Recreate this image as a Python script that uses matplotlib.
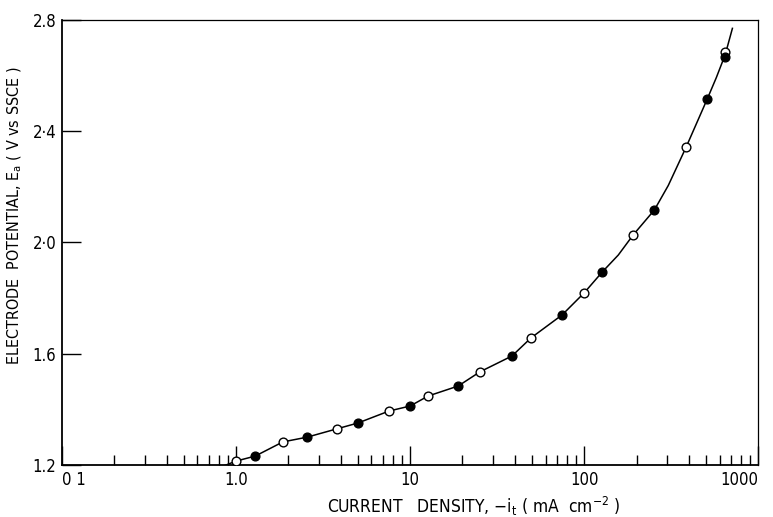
import matplotlib.pyplot as plt
from matplotlib.ticker import FixedLocator, LogLocator, NullFormatter

plt.rcParams['font.family'] = ['DejaVu Sans']
plt.rcParams['font.stretch'] = 'condensed'
plt.rcParams['mathtext.fontset'] = 'dejavusans'

# open circles
open_i = [1.0, 1.86, 3.8, 7.57, 12.7, 25.2, 49.5, 100, 191, 385, 646]
open_e = [1.214, 1.283, 1.33, 1.394, 1.448, 1.535, 1.657, 1.819, 2.027, 2.343, 2.685]

# filled circles
filled_i = [1.29, 2.56, 5.02, 10.0, 18.9, 38.5, 74.8, 127, 253, 509, 646]
filled_e = [1.232, 1.30, 1.351, 1.412, 1.484, 1.592, 1.74, 1.894, 2.117, 2.516, 2.667]

# drawn curve
curve_i = [0.8, 1.0, 1.29, 1.86, 2.56, 3.8, 5.02, 7.57, 10.0, 12.7, 18.9, 25.2, 38.5,
           49.5, 74.8, 100, 127, 157, 191, 253, 304, 385, 509, 574, 646, 710]
curve_e = [1.19, 1.214, 1.232, 1.283, 1.30, 1.33, 1.351, 1.394, 1.412, 1.448, 1.484,
           1.535, 1.592, 1.657, 1.74, 1.819, 1.894, 1.955, 2.027, 2.117, 2.205, 2.343,
           2.516, 2.593, 2.676, 2.77]

xticks = [0.1, 1, 10, 100, 1000]
xlabels = ['0 1', '1.0', '10', '100', '1000']
yticks = [1.2, 1.6, 2.0, 2.4, 2.8]
ylabels = ['1.2', '1.6', '2·0', '2·4', '2.8']

fig = plt.figure(figsize=(7.73, 5.17), dpi=100)
ax = fig.add_axes([0.080, 0.1006, 0.901, 0.8607])

ax.plot(curve_i, curve_e, color='black', lw=1.1, zorder=1)
ax.plot(open_i, open_e, 'o', ms=6.3, mfc='white', mec='black', mew=1.0, zorder=3)
ax.plot(filled_i, filled_e, 'o', ms=6.3, mfc='black', mec='black', zorder=3)

ax.set_xscale('log')
ax.set_xlim(0.1, 1000)
ax.set_ylim(1.2, 2.8)

ax.xaxis.set_major_locator(FixedLocator(xticks))
ax.set_xticklabels(xlabels)
ax.xaxis.set_minor_locator(LogLocator(base=10, subs=range(2, 10)))
ax.xaxis.set_minor_formatter(NullFormatter())
ax.set_yticks(yticks)
ax.set_yticklabels(ylabels)

ax.tick_params(axis='both', which='major', direction='in', length=14, width=1.0,
               labelsize=12, pad=4)
ax.tick_params(axis='x', which='minor', direction='in', length=7, width=1.0)
ax.tick_params(top=False, right=False)
ax.get_xticklabels()[0].set_horizontalalignment('left')
ax.get_xticklabels()[-1].set_horizontalalignment('right')

for s in ['left', 'bottom']:
    ax.spines[s].set_linewidth(1.3)
for s in ['top', 'right']:
    ax.spines[s].set_linewidth(0.9)

ax.set_xlabel(r'CURRENT   DENSITY, $-\mathrm{i}_\mathrm{t}$ ( mA  cm$^{-2}$ )', fontsize=12.5)
ax.set_ylabel(r'ELECTRODE  POTENTIAL, E$_\mathrm{a}$ ( V vs SSCE )', fontsize=11.5)
ax.xaxis.set_label_coords(0.592, -0.068)
ax.yaxis.set_label_coords(-0.054, 0.56)

fig.savefig('out.png', dpi=100)
